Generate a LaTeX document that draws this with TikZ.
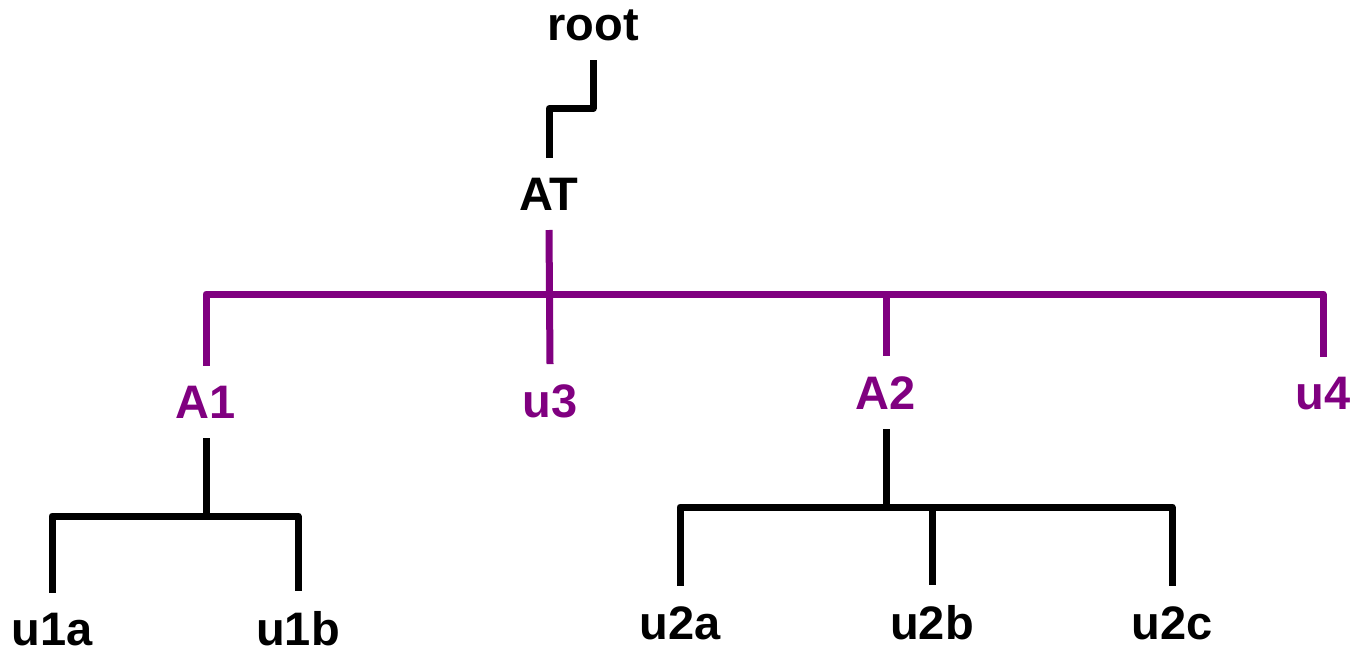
\documentclass[tikz,border=0pt]{standalone}
\usepackage{fontspec}
\setmainfont{Liberation Sans}
\definecolor{grp}{RGB}{128,0,128}
\begin{document}
\begin{tikzpicture}[x=1pt, y=-1pt,
    lbl/.style={font=\fontsize{47}{50}\selectfont\bfseries, anchor=base, inner sep=0pt, outer sep=20pt},
    link/.style={line width=7pt, line join=round}]
  \useasboundingbox (0,0) rectangle (1354,653);
  % labels
  \node[lbl] (root) at (593,40) {root};
  \node[lbl] (AT) at (549,210) {AT};
  \node[lbl, grp] (A1) at (206,418) {A1};
  \node[lbl, grp] (u3) at (550,417) {u3};
  \node[lbl, grp] (A2) at (886,409) {A2};
  \node[lbl, grp] (u4) at (1323,409) {u4};
  \foreach \n/\x in {u1a/52, u1b/298}
    \node[lbl] (\n) at (\x,645) {\n};
  \foreach \n/\x in {u2a/680, u2b/932, u2c/1172}
    \node[lbl] (\n) at (\x,639) {\n};
  % connectors
  \draw[link] (root.south) -- ++(0,48) -| (AT.north);
  \coordinate (hub) at ([yshift=-64pt]AT.south);
  \draw[link, grp] (AT.south) -- (u3.north);
  \foreach \n in {A1, A2, u4}
    \draw[link, grp] (hub) -| (\n.north);
  \coordinate (hubA) at ([yshift=-78pt]A1.south);
  \foreach \n in {u1a, u1b}
    \draw[link] (A1.south) -- (hubA) -| (\n.north);
  \coordinate (hubB) at ([yshift=-78pt]A2.south);
  \foreach \n in {u2a, u2b, u2c}
    \draw[link] (A2.south) -- (hubB) -| (\n.north);
\end{tikzpicture}
\end{document}
